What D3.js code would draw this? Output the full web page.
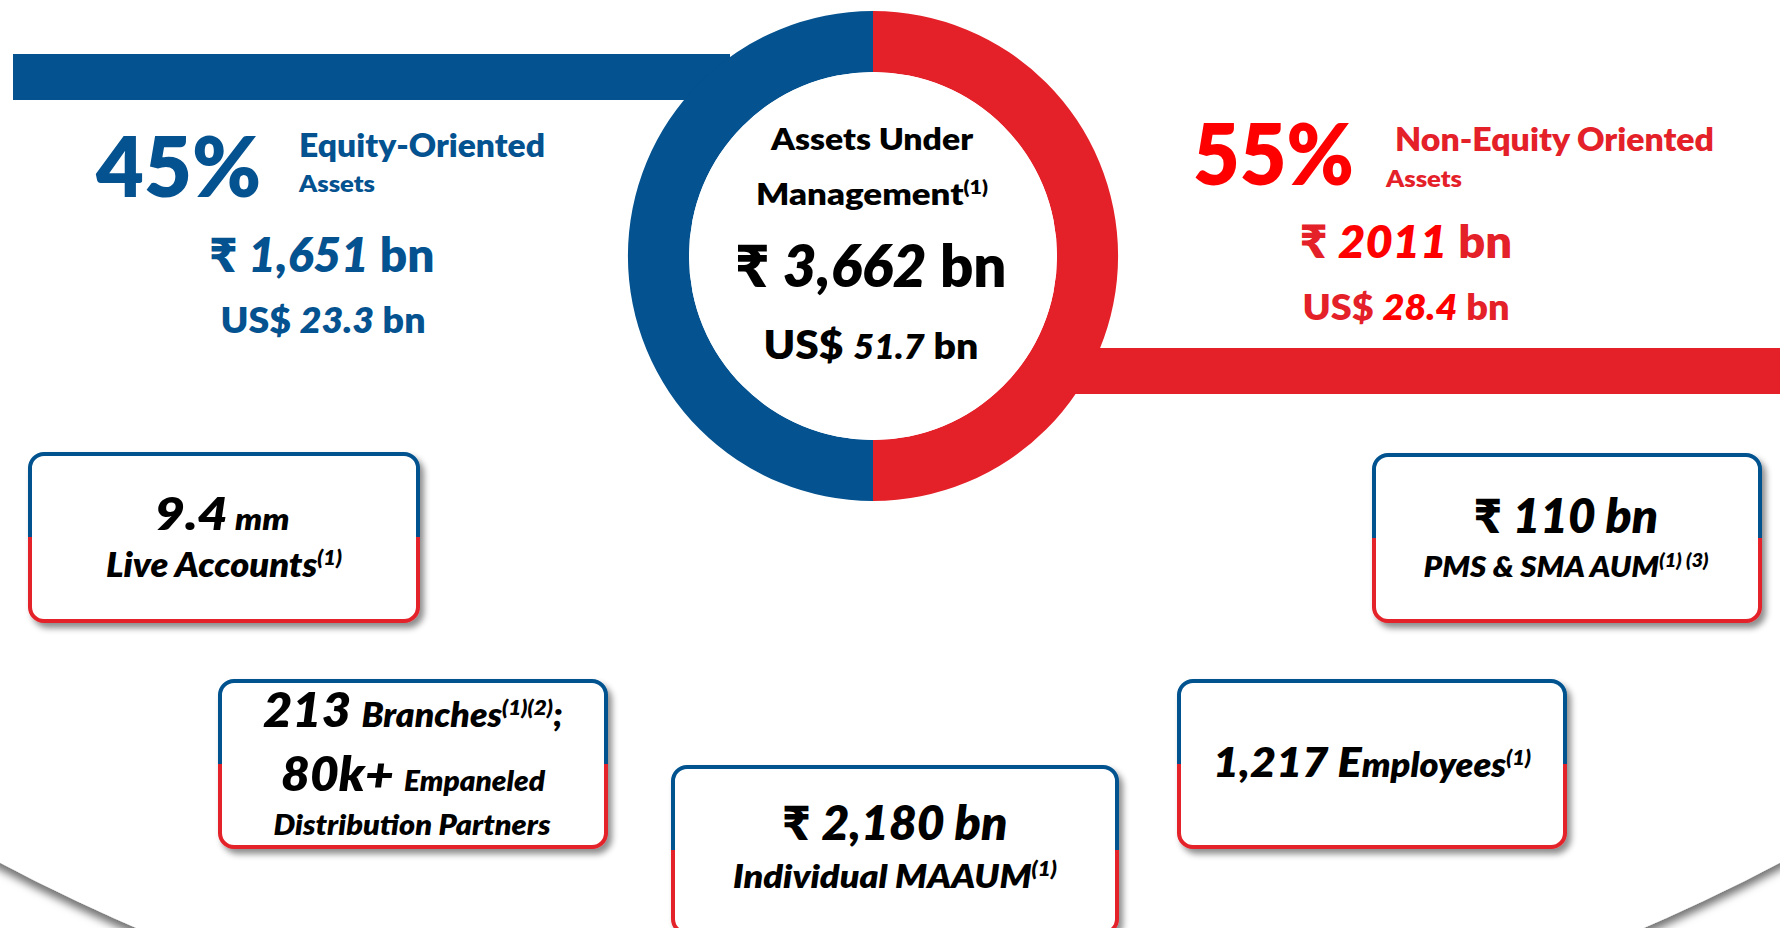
<!DOCTYPE html>
<html>
<head>
<meta charset="utf-8">
<script src="https://cdn.jsdelivr.net/npm/d3@7"></script>
<style>
  html, body { margin: 0; padding: 0; background: #fff; }
  svg { display: block; }
  text { white-space: pre; }
</style>
</head>
<body>
<script>
// ---------------- DATA ----------------
const shareNames = ["Equity-Oriented", "Non-Equity Oriented"];
const shareSub = ["Assets", "Assets"];
const sharePct = [45, 55];
const shareInrBn = ["1,651", "2011"];
const shareUsdBn = ["23.3", "28.4"];
const totalTitle = ["Assets Under", "Management"];
const totalInrBn = "3,662";
const totalUsdBn = "51.7";
const statValues = ["9.4", "213", "2,180", "110", "1,217"];
const statUnits = ["mm", "", "bn", "bn", ""];
const statLabels = ["Live Accounts", "Branches", "Individual MAAUM", "PMS & SMA AUM", "Employees"];
const statNotes = ["(1)", "(1)(2)", "(1)", "(1) (3)", "(1)"];
const partnersValue = "80k+";
const partnersLabel = ["Empaneled", "Distribution Partners"];
const ringHalves = [
  { name: "Non-Equity Oriented", weight: 1 },
  { name: "Equity-Oriented", weight: 1 }
];

// ---------------- STYLE ----------------
const W = 1780, H = 928;
const BLUE = "#04528F", RED = "#E42129", BRIGHT = "#FF0000", BLACK = "#000";
const FONT = "Lato, 'Noto Sans', 'DejaVu Sans', sans-serif";

const svg = d3.select("body").append("svg").attr("width", W).attr("height", H);
const defs = svg.append("defs");

const fBig = defs.append("filter").attr("id", "bigShadow")
  .attr("x", "-10%").attr("y", "-10%").attr("width", "120%").attr("height", "120%");
fBig.append("feDropShadow").attr("dx", 0).attr("dy", 7).attr("stdDeviation", 4)
  .attr("flood-color", "#000").attr("flood-opacity", 0.55);

const fBox = defs.append("filter").attr("id", "boxShadow")
  .attr("x", "-10%").attr("y", "-10%").attr("width", "125%").attr("height", "130%");
fBox.append("feDropShadow").attr("dx", 4).attr("dy", 5).attr("stdDeviation", 3)
  .attr("flood-color", "#000").attr("flood-opacity", 0.45);

const grad = defs.append("linearGradient").attr("id", "boxStroke")
  .attr("x1", 0).attr("y1", 0).attr("x2", 0).attr("y2", 1);
grad.append("stop").attr("offset", "0%").attr("stop-color", BLUE);
grad.append("stop").attr("offset", "50%").attr("stop-color", BLUE);
grad.append("stop").attr("offset", "50%").attr("stop-color", RED);
grad.append("stop").attr("offset", "100%").attr("stop-color", RED);

// big background disc with shadow edge at the bottom
svg.append("circle").attr("cx", 890).attr("cy", -816).attr("r", 1900)
  .attr("fill", "#fff").attr("filter", "url(#bigShadow)");

// ---------------- helpers ----------------
function txt(x, y, parts, opt = {}) {
  const t = svg.append("text")
    .attr("x", x).attr("y", y)
    .attr("text-anchor", opt.anchor || "middle")
    .attr("font-family", FONT).attr("font-weight", 800)
    .attr("fill", opt.fill || BLACK);
  let shift = 0;
  parts.forEach(p => {
    const s = t.append("tspan").text(p.t).attr("font-size", p.size);
    if (p.i) s.attr("font-style", "italic");
    if (p.c) s.attr("fill", p.c);
    const target = p.sup ? -p.sup : 0;
    if (target !== shift) { s.attr("dy", target - shift); shift = target; }
  });
  if (opt.width) t.attr("textLength", opt.width).attr("lengthAdjust", "spacingAndGlyphs");
  return t;
}

// ---------------- bars ----------------
const xBar = d3.scaleLinear().domain([0, 1]).range([0, W]);
svg.append("rect").attr("x", 13).attr("y", 54).attr("width", 717).attr("height", 46).attr("fill", BLUE);
svg.append("rect").attr("x", 1060).attr("y", 348).attr("width", xBar(1) - 1060).attr("height", 46).attr("fill", RED);

// ---------------- ring ----------------
const cx = 873, cy = 256, rOuter = 245, rInner = 184;
const pie = d3.pie().value(d => d.weight).sort(null);
const arc = d3.arc().innerRadius(rInner).outerRadius(rOuter);
const ringColor = d3.scaleOrdinal().domain(ringHalves.map(d => d.name)).range([RED, BLUE]);
const ring = svg.append("g").attr("transform", `translate(${cx},${cy})`);
ring.selectAll("path").data(pie(ringHalves)).join("path")
  .attr("d", arc).attr("fill", d => ringColor(d.data.name));
ring.append("circle").attr("r", rInner).attr("fill", "#fff");

// ---------------- left block (equity) ----------------
txt(96, 197, [{ t: `${sharePct[0]}%`, size: 84 }], { anchor: "start", fill: BLUE, width: 165 });
txt(299, 157, [{ t: shareNames[0], size: 32 }], { anchor: "start", fill: BLUE, width: 246 });
txt(299, 192, [{ t: shareSub[0], size: 23 }], { anchor: "start", fill: BLUE, width: 76 });
txt(322, 272, [{ t: "₹ ", size: 47 }, { t: shareInrBn[0], size: 47, i: true }, { t: " bn", size: 47 }], { fill: BLUE, width: 225 });
txt(323, 333, [{ t: "US$ ", size: 36 }, { t: shareUsdBn[0], size: 36, i: true }, { t: " bn", size: 36 }], { fill: BLUE, width: 205 });

// ---------------- center ----------------
txt(872, 150, [{ t: totalTitle[0], size: 31 }], { width: 202 });
txt(872, 205, [{ t: totalTitle[1], size: 31 }, { t: "(1)", size: 19, sup: 11 }], { width: 232 });
txt(871, 287, [{ t: "₹ ", size: 58 }, { t: totalInrBn, size: 58, i: true }, { t: " bn", size: 58 }], { width: 271 });
txt(871, 359, [{ t: "US$ ", size: 39 }, { t: totalUsdBn, size: 33, i: true }, { t: " bn", size: 36 }], { width: 215 });

// ---------------- right block (non-equity) ----------------
txt(1193, 185, [{ t: `${sharePct[1]}%`, size: 86 }], { anchor: "start", fill: BRIGHT, width: 161 });
txt(1395, 151, [{ t: shareNames[1], size: 32 }], { anchor: "start", fill: RED, width: 319 });
txt(1386, 187, [{ t: shareSub[1], size: 23 }], { anchor: "start", fill: RED, width: 76 });
txt(1406, 258, [{ t: "₹ ", size: 46 }, { t: shareInrBn[1], size: 46, i: true, c: BRIGHT }, { t: " bn", size: 46 }], { fill: RED, width: 212 });
txt(1406, 320, [{ t: "US$ ", size: 36 }, { t: shareUsdBn[1], size: 36, i: true, c: BRIGHT }, { t: " bn", size: 36 }], { fill: RED, width: 207 });

// ---------------- stat boxes ----------------
const boxes = [
  { x: 30, y: 454, w: 388, h: 167 },
  { x: 220, y: 681, w: 386, h: 166 },
  { x: 673, y: 767, w: 444, h: 166 },
  { x: 1374, y: 455, w: 386, h: 166 },
  { x: 1179, y: 681, w: 386, h: 166 }
];
svg.append("g").selectAll("rect").data(boxes).join("rect")
  .attr("x", d => d.x).attr("y", d => d.y).attr("width", d => d.w).attr("height", d => d.h)
  .attr("rx", 14).attr("ry", 14)
  .attr("fill", "#fff").attr("stroke", "url(#boxStroke)").attr("stroke-width", 4)
  .attr("filter", "url(#boxShadow)");

// box 1: live accounts
txt(222, 530, [{ t: statValues[0], size: 46, i: true }, { t: " " + statUnits[0], size: 30, i: true }], { width: 135 });
txt(224, 577, [{ t: statLabels[0], size: 33, i: true }, { t: statNotes[0], size: 20, i: true, sup: 12 }], { width: 236 });

// box 2: branches & partners
txt(413, 727, [{ t: statValues[1] + " ", size: 47, i: true }, { t: statLabels[1], size: 33, i: true },
  { t: statNotes[1], size: 21, i: true, sup: 12 }, { t: ";", size: 33, i: true }], { width: 300 });
txt(413, 791, [{ t: partnersValue + " ", size: 47, i: true }, { t: partnersLabel[0], size: 28, i: true }], { width: 264 });
txt(412, 835, [{ t: partnersLabel[1], size: 29, i: true }], { width: 277 });

// box 3: individual MAAUM
txt(895, 840, [{ t: "₹ ", size: 47 }, { t: statValues[2] + " " + statUnits[2], size: 47, i: true }], { width: 225 });
txt(895, 888, [{ t: statLabels[2], size: 32, i: true }, { t: statNotes[2], size: 20, i: true, sup: 12 }], { width: 324 });

// box 4: PMS & SMA
txt(1566, 533, [{ t: "₹ ", size: 47 }, { t: statValues[3] + " " + statUnits[3], size: 47, i: true }], { width: 184 });
txt(1566, 577, [{ t: statLabels[3], size: 28, i: true }, { t: statNotes[3], size: 18, i: true, sup: 10 }], { width: 285 });

// box 5: employees
txt(1372, 777, [{ t: statValues[4] + " ", size: 41, i: true }, { t: statLabels[4][0], size: 41, i: true },
  { t: statLabels[4].slice(1), size: 33, i: true }, { t: statNotes[4], size: 20, i: true, sup: 12 }], { width: 318 });
</script>
</body>
</html>
